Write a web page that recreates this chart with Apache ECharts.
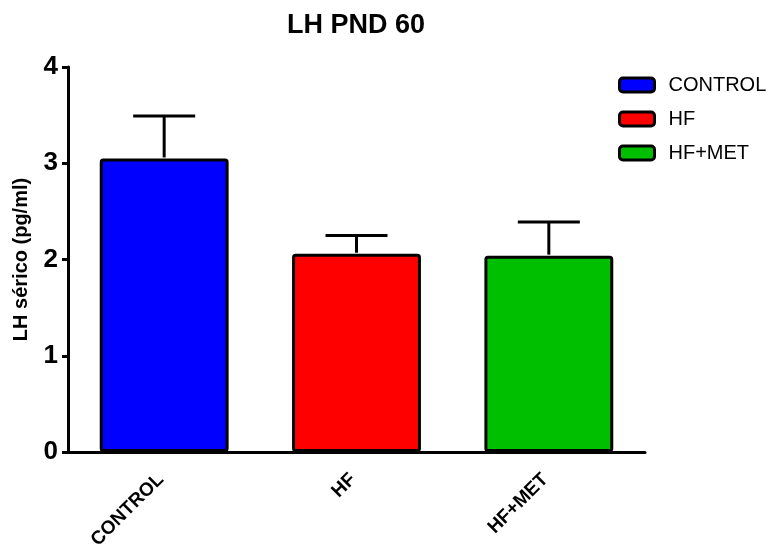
<!DOCTYPE html>
<html>
<head>
<meta charset="utf-8">
<script src="https://cdn.jsdelivr.net/npm/echarts@6/dist/echarts.min.js"></script>
<style>html,body{margin:0;padding:0;background:#fff}#c{width:770px;height:550px}</style>
</head>
<body>
<div id="c"></div>
<script>
var categories = ['CONTROL', 'HF', 'HF+MET'];
var means = [3.05, 2.06, 2.04];
var sems = [0.44, 0.19, 0.35];
var colors = ['#0000FF', '#FF0000', '#00BF00'];
var yTicks = [0, 1, 2, 3, 4];

var FONT = '"Liberation Sans", Arial, sans-serif';
var chart = echarts.init(document.getElementById('c'));

var barSeries = categories.map(function (name, i) {
  return {
    name: name,
    type: 'bar',
    barGap: '-100%',
    barWidth: '67%',
    data: categories.map(function (c, j) { return j === i ? means[j] : '-'; }),
    itemStyle: { color: colors[i], borderColor: '#000', borderWidth: 3, borderRadius: 2 },
    z: 2
  };
});

var errSeries = {
  type: 'custom',
  name: 'err',
  z: 5,
  data: categories.map(function (c, i) { return [i, means[i], means[i] + sems[i]]; }),
  renderItem: function (params, api) {
    var x = api.value(0);
    var p0 = api.coord([x, api.value(1)]);
    var p1 = api.coord([x, api.value(2)]);
    var half = 31;
    var st = { stroke: '#000', lineWidth: 3 };
    return {
      type: 'group',
      children: [
        { type: 'line', shape: { x1: p0[0], y1: p0[1] - 1, x2: p1[0], y2: p1[1] }, style: st },
        { type: 'line', shape: { x1: p1[0] - half, y1: p1[1], x2: p1[0] + half, y2: p1[1] }, style: st }
      ]
    };
  }
};

chart.setOption({
  animation: false,
  backgroundColor: '#fff',
  title: {
    text: 'LH PND 60',
    left: 351,
    textAlign: 'center',
    top: 7,
    textStyle: { fontFamily: FONT, fontSize: 27, fontWeight: 'bold', color: '#000' }
  },
  legend: {
    data: categories,
    orient: 'vertical',
    left: 618,
    top: 75,
    padding: 0,
    itemGap: 14,
    itemWidth: 35,
    itemHeight: 14,
    icon: 'roundRect',
    itemStyle: { borderColor: '#000', borderWidth: 3 },
    textStyle: { fontFamily: FONT, fontSize: 20, color: '#000', padding: [0, 0, 0, 9] }
  },
  grid: { left: 68, right: 125, top: 67, bottom: 98, containLabel: false, outerBoundsMode: 'none' },
  xAxis: {
    type: 'category',
    data: categories,
    axisLine: { lineStyle: { color: '#000', width: 3 } },
    axisTick: { alignWithLabel: true, length: 7, lineStyle: { color: '#000', width: 3 } },
    axisLabel: {
      rotate: 45,
      margin: 21,
      interval: 0,
      padding: [0, 5, 0, 0],
      fontFamily: FONT, fontSize: 19, fontWeight: 'bold', color: '#000'
    }
  },
  yAxis: {
    type: 'value',
    min: yTicks[0],
    max: yTicks[yTicks.length - 1],
    interval: 1,
    name: 'LH sérico (pg/ml)',
    nameLocation: 'middle',
    nameGap: 37,
    nameTextStyle: { fontFamily: FONT, fontSize: 20, fontWeight: 'bold', color: '#000' },
    splitLine: { show: false },
    axisLine: { show: true, lineStyle: { color: '#000', width: 3 } },
    axisTick: { show: true, length: 6, lineStyle: { color: '#000', width: 3 } },
    axisLabel: { margin: 10, fontFamily: FONT, fontSize: 26, fontWeight: 'bold', color: '#000' }
  },
  series: barSeries.concat([errSeries])
});
</script>
</body>
</html>
